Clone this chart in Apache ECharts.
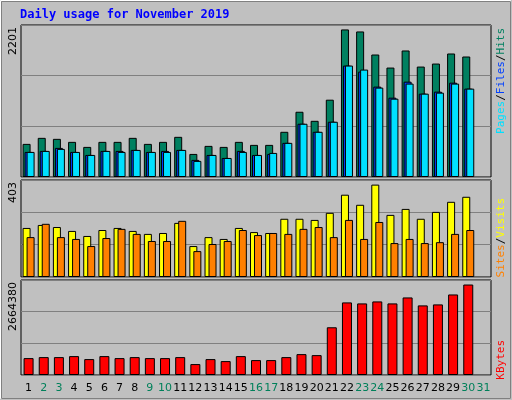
<!DOCTYPE html>
<html><head><meta charset="utf-8">
<script src="https://cdn.jsdelivr.net/npm/echarts@6/dist/echarts.min.js"></script>
<style>html,body{margin:0;padding:0;background:#c0c0c0}#c{width:512px;height:400px}</style>
</head><body><div id="c"></div>
<script>
const days = ['1','2','3','4','5','6','7','8','9','10','11','12','13','14','15','16','17','18','19','20','21','22','23','24','25','26','27','28','29','30','31'];
const weekend = ['2','3','9','10','16','17','23','24','30','31'];
const hits = [494,584,569,524,449,524,524,584,494,524,599,344,464,449,524,479,479,674,973,838,1153,2201,2171,1827,1632,1887,1647,1692,1842,1797,null];
const files = [374,389,434,374,329,389,389,404,374,389,404,255,329,284,389,329,344,509,794,674,824,1662,1572,1348,1183,1422,1243,1273,1407,1318,null];
const pages = [374,389,419,374,329,389,374,404,374,374,404,240,329,284,374,329,359,509,794,674,824,1662,1602,1333,1168,1393,1243,1258,1393,1318,null];
const visits = [214,227,218,201,179,205,214,201,188,192,236,135,174,166,214,196,192,254,254,249,280,359,315,403,271,297,254,284,328,350,null];
const sites = [174,232,174,166,135,170,210,188,157,157,245,113,144,157,205,183,192,188,210,218,174,249,166,240,148,166,148,152,188,205,null];
const kbytes = [497740,527020,527020,556300,468460,556300,497740,527020,497740,497740,527020,322070,468460,409900,556300,439180,439180,527020,614860,585580,1405380,2137350,2108070,2166630,2108070,2283750,2049520,2078790,2371580,2664380,null];
const maxLabels = ['2201','403','2664380'];

const chart = echarts.init(document.getElementById('c'));
const mono = 'DejaVu Sans Mono';
const grids = [
  {left:21, top:25, width:470, height:152},
  {left:21, top:180, width:470, height:97},
  {left:21, top:280, width:470, height:95}
];
const maxes = [2201*1.03, 403*1.05, 2664380*1.05];
const border = {borderColor:'#000', borderWidth:1};
function bar(name, data, gi, color, width, gap){
  return {type:'bar', name, data, xAxisIndex:gi, yAxisIndex:gi, barWidth:width, barGap:gap,
    itemStyle:Object.assign({color}, border), animation:false};
}
chart.setOption({
  animation:false,
  backgroundColor:'#c0c0c0',
  grid: grids.map(g=>Object.assign({show:true, borderColor:'#000', borderWidth:1, backgroundColor:'#c0c0c0'}, g)),
  xAxis: grids.map((g,i)=>({type:'category', gridIndex:i, data:days,
    axisLine:{show:false}, axisTick:{show:false},
    axisLabel:{show:i===2, margin:8, fontFamily:'DejaVu Sans', fontSize:11, interval:0,
      color:(v)=>weekend.includes(v)?'#00805a':'#000'}})),
  yAxis: grids.map((g,i)=>({type:'value', gridIndex:i, min:0, max:maxes[i], interval:maxes[i]/3,
    axisLabel:{show:false}, axisLine:{show:false}, axisTick:{show:false},
    splitLine:{show:true, lineStyle:{color:'#808080', width:1}}})),
  series:[
    bar('Hits', hits, 0, '#008060', 8, '-75%'),
    bar('Files', files, 0, '#0040ff', 8, '-75%'),
    bar('Pages', pages, 0, '#00e0ff', 8, '-75%'),
    bar('Visits', visits, 1, '#ffff00', 8, '-50%'),
    bar('Sites', sites, 1, '#ff8000', 8, '-50%'),
    bar('KBytes', kbytes, 2, '#ff0000', 10, '0%')
  ],
  graphic:[
    {type:'rect', shape:{x:0.5,y:0.5,width:510,height:398}, style:{fill:'none', stroke:'#ffffff', lineWidth:1}},
    {type:'rect', shape:{x:1.5,y:1.5,width:509,height:397}, style:{fill:'none', stroke:'#808080', lineWidth:1}},
    {type:'text', left:20, top:9, style:{text:'Daily usage for November 2019', font:'bold 12px "DejaVu Sans Mono"', fill:'#0000ff'}},
    {type:'text', x:13, y:27, rotation:Math.PI/2, style:{text:maxLabels[0], font:'11px "DejaVu Sans"', fill:'#000', align:'right', verticalAlign:'middle'}},
    {type:'text', x:13, y:182, rotation:Math.PI/2, style:{text:maxLabels[1], font:'11px "DejaVu Sans"', fill:'#000', align:'right', verticalAlign:'middle'}},
    {type:'text', x:13, y:282, rotation:Math.PI/2, style:{text:maxLabels[2], font:'11px "DejaVu Sans"', fill:'#000', align:'right', verticalAlign:'middle'}},
    {type:'text', x:501, y:28, rotation:Math.PI/2, style:{text:'{a|Pages}{s|/}{b|Files}{s|/}{c|Hits}', align:'right', verticalAlign:'middle',
      rich:{a:{fill:'#00e0ff',font:'11px "DejaVu Sans Mono"'},b:{fill:'#0040ff',font:'11px "DejaVu Sans Mono"'},c:{fill:'#008060',font:'11px "DejaVu Sans Mono"'},s:{fill:'#000',font:'11px "DejaVu Sans Mono"'}}}},
    {type:'text', x:501, y:198, rotation:Math.PI/2, style:{text:'{a|Sites}{s|/}{b|Visits}', align:'right', verticalAlign:'middle',
      rich:{a:{fill:'#ff8000',font:'11px "DejaVu Sans Mono"'},b:{fill:'#ffff00',font:'11px "DejaVu Sans Mono"'},s:{fill:'#000',font:'11px "DejaVu Sans Mono"'}}}},
    {type:'text', x:501, y:340, rotation:Math.PI/2, style:{text:'KBytes', font:'11px "DejaVu Sans Mono"', fill:'#ff0000', align:'right', verticalAlign:'middle'}}
  ]
});
</script></body></html>
